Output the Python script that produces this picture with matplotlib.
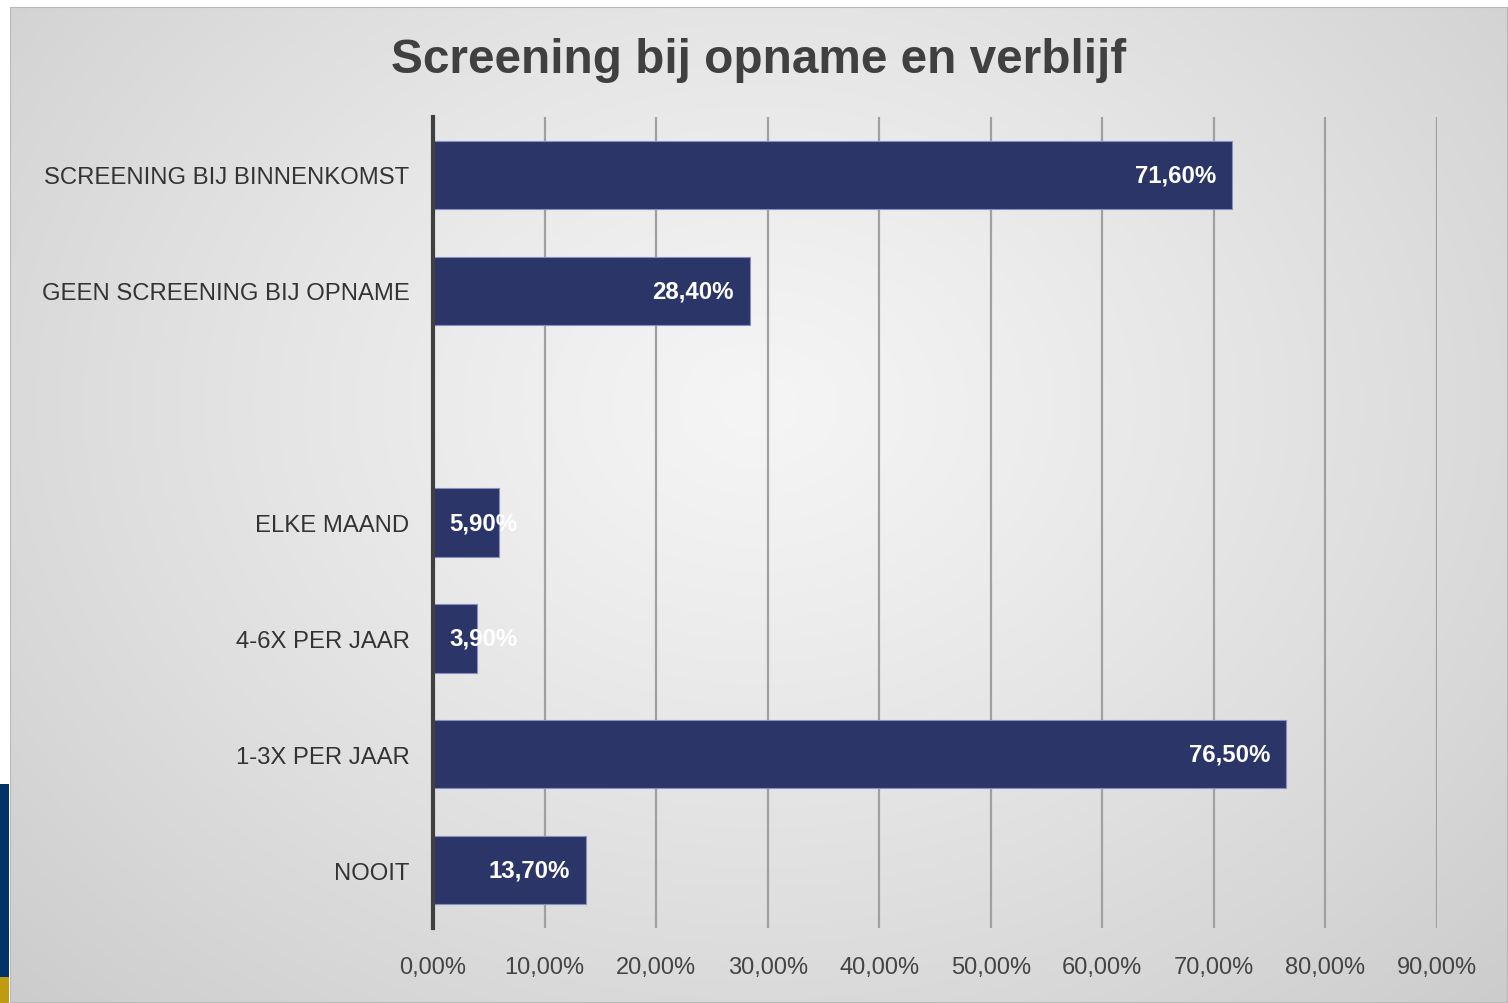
import numpy as np
import matplotlib
matplotlib.use("Agg")
import matplotlib.pyplot as plt
from matplotlib.transforms import offset_copy
from matplotlib.patches import Rectangle

plt.rcParams['font.family'] = ['Liberation Sans', 'DejaVu Sans']

categories = ["SCREENING BIJ BINNENKOMST", "GEEN SCREENING BIJ OPNAME", "",
              "ELKE MAAND", "4-6X PER JAAR", "1-3X PER JAAR", "NOOIT"]
values = [71.6, 28.4, np.nan, 5.9, 3.9, 76.5, 13.7]
xticks = [0, 10, 20, 30, 40, 50, 60, 70, 80, 90]
title = "Screening bij opname en verblijf"

W, H = 1508, 1004
fig = plt.figure(figsize=(W / 100, H / 100), dpi=100)
fig.patch.set_facecolor("white")

# background panel with radial gradient
bx0, by0, bx1, by1 = 10 / W, 0, 1.0, 1 - 8 / H
bg = fig.add_axes([bx0, by0, bx1 - bx0, by1 - by0])
bg.set_axis_off()
yy, xx = np.mgrid[0:1:400j, 0:1:600j]
r = np.sqrt(((xx - 0.5) / 0.5) ** 2 + ((yy - 0.4) / 0.6) ** 2) / np.sqrt(2)
r = np.clip(r, 0, 1)
c_center, c_edge = 0.96, 0.80
img = c_center + (c_edge - c_center) * r ** 1.2
bg.imshow(np.dstack([img, img, img]), extent=[0, 1, 0, 1], aspect='auto',
          origin='upper', interpolation='bilinear')
bg.set_xlim(0, 1)
bg.set_ylim(0, 1)
bg.add_patch(Rectangle((0, 0), 1, 1, transform=bg.transAxes, fill=False,
                       edgecolor="#b8b8b8", linewidth=1.5))

# slide decoration at left bottom
fig.patches.append(Rectangle((0, 26 / H), 9 / W, (219 - 26) / H, transform=fig.transFigure,
                             facecolor="#003366", edgecolor="none"))
fig.patches.append(Rectangle((0, 0), 9 / W, 26 / H, transform=fig.transFigure,
                             facecolor="#c09a10", edgecolor="none"))

left, right = 433 / W, 1437 / W
top, bottom = 1 - 118 / H, 1 - 929 / H
ax = fig.add_axes([left, bottom, right - left, top - bottom])
ax.patch.set_alpha(0)

y = np.arange(len(categories))
bar_color = "#2b3568"
ax.barh(y, values, height=0.59, color=bar_color, edgecolor="#8590c0", linewidth=0.8, zorder=3)

ax.set_xlim(0, 90)
ax.set_ylim(len(categories) - 0.5, -0.5)
ax.set_yticks(y)
ax.set_yticklabels(categories, fontsize=17.2, color="#333333")
ax.set_xticks(xticks)
ax.set_xticklabels([f"{t},00%" for t in xticks], fontsize=17, color="#444444")
ax.tick_params(axis='y', length=0, pad=17)
ax.tick_params(axis='x', length=0, pad=20)
ax.xaxis.grid(True, color="#a0a0a0", linewidth=1.6, zorder=0)
ax.set_axisbelow(True)
for s in ["top", "right", "bottom"]:
    ax.spines[s].set_visible(False)
ax.spines["left"].set_color("#404040")
ax.spines["left"].set_linewidth(3)
ax.spines["left"].set_zorder(4)

for yi, v in zip(y, values):
    if np.isnan(v):
        continue
    lab = f"{v:.2f}%".replace(".", ",")
    if v < 10:
        tr = offset_copy(ax.transData, fig=fig, x=11.5, y=0, units='points')
        ax.text(0, yi, lab, transform=tr, ha='left', va='center', color='white',
                fontsize=17.3, fontweight='bold', zorder=5)
    else:
        tr = offset_copy(ax.transData, fig=fig, x=-11.5, y=0, units='points')
        ax.text(v, yi, lab, transform=tr, ha='right', va='center', color='white',
                fontsize=17.3, fontweight='bold', zorder=5)

fig.text(759 / W, 1 - 61 / H, title, ha='center', va='center', fontsize=34.4,
         fontweight='bold', color="#404040")

fig.savefig("out.png", dpi=100)
